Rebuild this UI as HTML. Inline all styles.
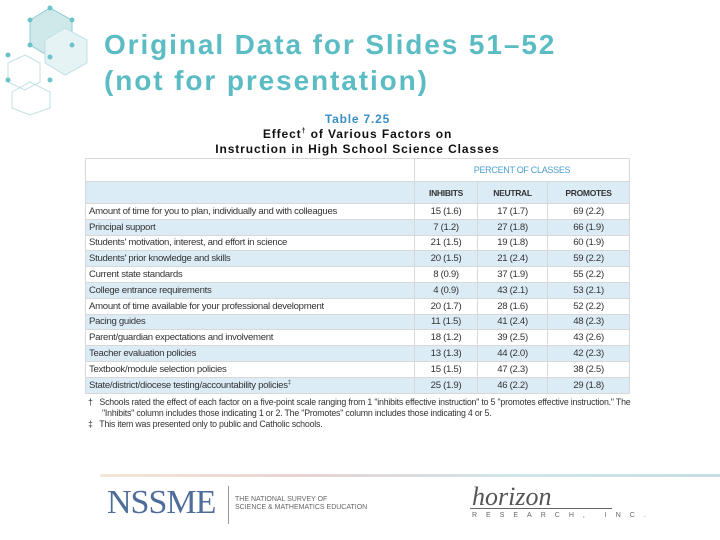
<!DOCTYPE html>
<html><head><meta charset="utf-8"><style>
body{margin:0;width:720px;height:540px;background:#fff;position:relative;overflow:hidden;font-family:"Liberation Sans",sans-serif}
.t{position:absolute;left:104px;color:#5bbcc4;font-weight:bold;font-size:28px;letter-spacing:1.9px}
table{position:absolute;left:85px;top:158px;width:545px;border-collapse:collapse;font-size:9.6px;color:#333}
td{height:14.8px;padding:0 3px;border:1px solid #d8d8d8;white-space:nowrap;letter-spacing:-0.3px}
tr.b td{background:#dcecf7}
td.n{text-align:center}
</style></head><body>
<svg style="position:absolute;left:0;top:0" width="130" height="120">
<g stroke="#bfe0e3" fill="none" stroke-width="1">
<polygon points="50,8 72,20 72,45 50,57 30,45 30,20" fill="#cfe9eb" stroke="#8fcdd2"/>
<polygon points="65,28 87,40 87,63 65,75 45,63 45,40" fill="#e6f3f4"/>
<polygon points="25,55 40,63 40,82 25,90 8,82 8,63"/>
<polygon points="30,82 50,92 50,108 30,115 12,108 12,92"/>
</g>
<g fill="#6cc3ca"><circle cx="50" cy="8" r="2.5"/><circle cx="72" cy="20" r="2.5"/><circle cx="72" cy="45" r="2.5"/><circle cx="50" cy="57" r="2.5"/><circle cx="30" cy="45" r="2.5"/><circle cx="30" cy="20" r="2.5"/><circle cx="8" cy="55" r="2.5"/><circle cx="8" cy="80" r="2.5"/><circle cx="50" cy="80" r="2.5"/></g>
</svg>
<div class="t" style="top:29px">Original Data for Slides 51–52</div>
<div class="t" style="top:65px">(not for presentation)</div>
<div style="position:absolute;text-align:center;top:112px;font-size:12px;font-weight:bold;color:#3a8fc4;letter-spacing:0.8px;left:85px;width:545px">Table 7.25</div>
<div style="position:absolute;left:85px;width:545px;text-align:center;top:125px;font-size:12px;font-weight:bold;color:#111;line-height:14.5px;letter-spacing:0.9px">Effect<sup style="font-size:7px">†</sup> of Various Factors on<br>Instruction in High School Science Classes</div>
<table>
<tr><td style="width:322px;height:22px"></td><td colspan="3" class="n" style="color:#4a9fd0;font-size:9px">PERCENT OF CLASSES</td></tr>
<tr class="b"><td style="height:21px"></td><td class="n" style="font-weight:bold;font-size:8.5px">INHIBITS</td><td class="n" style="font-weight:bold;font-size:8.5px">NEUTRAL</td><td class="n" style="font-weight:bold;font-size:8.5px">PROMOTES</td></tr>
<tr><td>Amount of time for you to plan, individually and with colleagues</td><td class="n">15 (1.6)</td><td class="n">17 (1.7)</td><td class="n">69 (2.2)</td></tr>
<tr class="b"><td>Principal support</td><td class="n">7 (1.2)</td><td class="n">27 (1.8)</td><td class="n">66 (1.9)</td></tr>
<tr><td>Students' motivation, interest, and effort in science</td><td class="n">21 (1.5)</td><td class="n">19 (1.8)</td><td class="n">60 (1.9)</td></tr>
<tr class="b"><td>Students' prior knowledge and skills</td><td class="n">20 (1.5)</td><td class="n">21 (2.4)</td><td class="n">59 (2.2)</td></tr>
<tr><td>Current state standards</td><td class="n">8 (0.9)</td><td class="n">37 (1.9)</td><td class="n">55 (2.2)</td></tr>
<tr class="b"><td>College entrance requirements</td><td class="n">4 (0.9)</td><td class="n">43 (2.1)</td><td class="n">53 (2.1)</td></tr>
<tr><td>Amount of time available for your professional development</td><td class="n">20 (1.7)</td><td class="n">28 (1.6)</td><td class="n">52 (2.2)</td></tr>
<tr class="b"><td>Pacing guides</td><td class="n">11 (1.5)</td><td class="n">41 (2.4)</td><td class="n">48 (2.3)</td></tr>
<tr><td>Parent/guardian expectations and involvement</td><td class="n">18 (1.2)</td><td class="n">39 (2.5)</td><td class="n">43 (2.6)</td></tr>
<tr class="b"><td>Teacher evaluation policies</td><td class="n">13 (1.3)</td><td class="n">44 (2.0)</td><td class="n">42 (2.3)</td></tr>
<tr><td>Textbook/module selection policies</td><td class="n">15 (1.5)</td><td class="n">47 (2.3)</td><td class="n">38 (2.5)</td></tr>
<tr class="b"><td>State/district/diocese testing/accountability policies<sup style="font-size:6px">‡</sup></td><td class="n">25 (1.9)</td><td class="n">46 (2.2)</td><td class="n">29 (1.8)</td></tr>
</table>
<div style="position:absolute;left:88px;top:397px;width:545px;font-size:8.8px;color:#333;line-height:11px;letter-spacing:-0.2px">
<div style="padding-left:14px;text-indent:-14px">†&nbsp;&nbsp; Schools rated the effect of each factor on a five-point scale ranging from 1 "inhibits effective instruction" to 5 "promotes effective instruction." The "Inhibits" column includes those indicating 1 or 2. The "Promotes" column includes those indicating 4 or 5.</div>
<div style="padding-left:14px;text-indent:-14px">‡&nbsp;&nbsp; This item was presented only to public and Catholic schools.</div></div>
<div style="position:absolute;left:100px;top:474px;width:620px;height:3px;background:linear-gradient(90deg,#f5e7d6,#e8d2d2,#cfe6ea,#c7dde2)"></div>
<div style="position:absolute;left:107px;top:484px;font-family:'Liberation Serif',serif;font-size:34px;color:#4e6d9a;letter-spacing:-1px">NSSME</div>
<div style="position:absolute;left:228px;top:486px;width:1px;height:38px;background:#999"></div>
<div style="position:absolute;left:235px;top:496px;font-size:7px;color:#666;line-height:8px">THE NATIONAL SURVEY OF<br>SCIENCE &amp; MATHEMATICS EDUCATION</div>
<div style="position:absolute;left:472px;top:482px;font-family:'Liberation Serif',serif;font-style:italic;font-size:26px;color:#555">horizon</div>
<div style="position:absolute;left:470px;top:508px;width:142px;height:1px;background:#666"></div>
<div style="position:absolute;left:472px;top:512px;font-size:7px;color:#666;letter-spacing:9px">RESEARCH, INC.</div>
</body></html>
